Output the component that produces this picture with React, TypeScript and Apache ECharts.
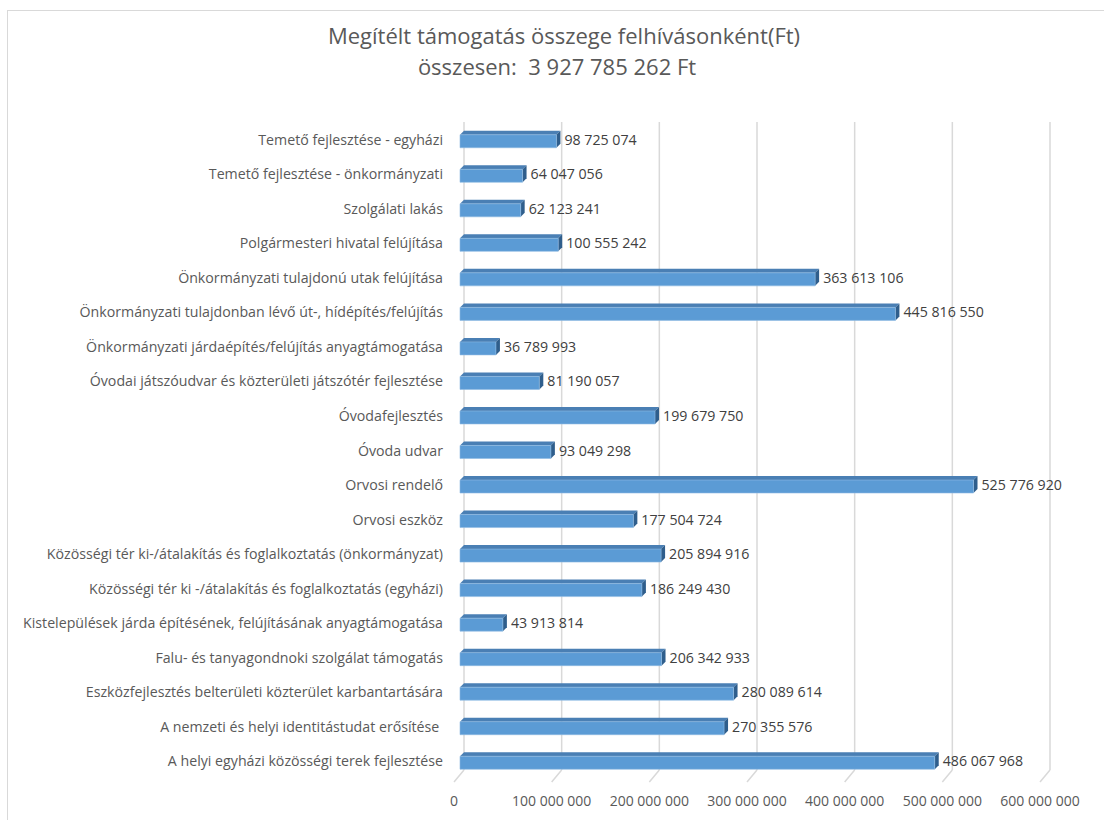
import React, { useEffect, useRef } from "react";
import * as echarts from "echarts";

// top-to-bottom as in the picture
const categoriesTopDown: string[] = [
  "Temető fejlesztése - egyházi",
  "Temető fejlesztése - önkormányzati",
  "Szolgálati lakás",
  "Polgármesteri hivatal felújítása",
  "Önkormányzati tulajdonú utak felújítása",
  "Önkormányzati tulajdonban lévő út-, hídépítés/felújítás",
  "Önkormányzati járdaépítés/felújítás anyagtámogatása",
  "Óvodai játszóudvar és közterületi játszótér fejlesztése",
  "Óvodafejlesztés",
  "Óvoda udvar",
  "Orvosi rendelő",
  "Orvosi eszköz",
  "Közösségi tér ki-/átalakítás és foglalkoztatás (önkormányzat)",
  "Közösségi tér ki -/átalakítás és foglalkoztatás (egyházi)",
  "Kistelepülések járda építésének, felújításának anyagtámogatása",
  "Falu- és tanyagondnoki szolgálat támogatás",
  "Eszközfejlesztés belterületi közterület karbantartására",
  "A nemzeti és helyi identitástudat erősítése ",
  "A helyi egyházi közösségi terek fejlesztése",
];
const valuesTopDown: number[] = [
  98725074, 64047056, 62123241, 100555242, 363613106, 445816550, 36789993,
  81190057, 199679750, 93049298, 525776920, 177504724, 205894916, 186249430,
  43913814, 206342933, 280089614, 270355576, 486067968,
];
const axisTicks: number[] = [0, 100000000, 200000000, 300000000, 400000000, 500000000, 600000000];
const titleLines: string[] = [
  "Megítélt támogatás összege felhívásonként(Ft)",
  "összesen:  3 927 785 262 Ft",
];

const categories = [...categoriesTopDown].reverse();
const values = [...valuesTopDown].reverse();

const fmt = (v: number) =>
  String(Math.round(v)).replace(/\B(?=(\d{3})+(?!\d))/g, " ");

const FONT = "'Open Sans', sans-serif";
const DX = 4;
const DY = 4;

const titleStyle = {
  fontFamily: FONT,
  fontSize: 22,
  fontWeight: "normal",
  color: "#595959",
};

export default function App() {
  const ref = useRef<HTMLDivElement>(null);
  useEffect(() => {
    const chart = echarts.init(ref.current!, null, { renderer: "svg" });
    chart.setOption({
      animation: false,
      title: [
        {
          text: titleLines[0],
          left: 564,
          textAlign: "center",
          top: 24,
          padding: 0,
          textStyle: titleStyle,
        },
        {
          text: titleLines[1],
          left: 557,
          textAlign: "center",
          top: 55,
          padding: 0,
          textStyle: titleStyle,
        },
      ],
      grid: { left: 460, right: 58, top: 122, bottom: 42, containLabel: false },
      xAxis: {
        type: "value",
        min: 0,
        max: 600000000,
        interval: 100000000,
        axisLine: { show: false },
        axisTick: { show: false },
        splitLine: { show: false },
        axisLabel: {
          formatter: (v: number) => fmt(v),
          color: "#595959",
          fontFamily: FONT,
          fontSize: 14,
          margin: 15,
          padding: [0, 12, 0, 0],
        },
      },
      yAxis: {
        type: "category",
        data: categories,
        axisLine: { show: false },
        axisTick: { show: false },
        axisLabel: {
          color: "#595959",
          fontFamily: FONT,
          fontSize: 14.2,
          margin: 17,
        },
      },
      series: [
        {
          type: "custom",
          name: "grid",
          silent: true,
          z: 1,
          data: axisTicks.map((t) => [t]),
          renderItem: (params: any, api: any) => {
            const cs = params.coordSys;
            const x = api.coord([api.value(0), 0])[0];
            const yTop = cs.y;
            const yFloor = cs.y + cs.height - 8;
            return {
              type: "group",
              children: [
                {
                  type: "line",
                  shape: { x1: x + DX, y1: yTop, x2: x + DX, y2: yFloor },
                  style: { stroke: "#d9d9d9", lineWidth: 1.5 },
                },
                {
                  type: "line",
                  shape: { x1: x + DX, y1: yFloor, x2: x - 6, y2: yFloor + 12 },
                  style: { stroke: "#d9d9d9", lineWidth: 1.5 },
                },
              ],
            };
          },
        },
        {
          type: "custom",
          name: "Megítélt támogatás",
          z: 2,
          data: values.map((v, i) => [v, i]),
          renderItem: (params: any, api: any) => {
            const v = api.value(0);
            const idx = api.value(1);
            const p0 = api.coord([0, idx]);
            const p1 = api.coord([v, idx]);
            const cy = p1[1];
            const h = 13;
            const yT = cy - h / 2 + 2;
            const yB = cy + h / 2 + 2;
            const x0 = p0[0];
            const x1 = p1[0];
            return {
              type: "group",
              children: [
                {
                  type: "polygon",
                  shape: {
                    points: [
                      [x0, yT],
                      [x0 + DX, yT - DY],
                      [x1 + DX, yT - DY],
                      [x1, yT],
                    ],
                  },
                  style: { fill: "#4a7fb4" },
                },
                {
                  type: "polygon",
                  shape: {
                    points: [
                      [x1, yT],
                      [x1 + DX, yT - DY],
                      [x1 + DX, yB - DY],
                      [x1, yB],
                    ],
                  },
                  style: { fill: "#2f5e8c" },
                },
                {
                  type: "rect",
                  shape: { x: x0, y: yT, width: x1 - x0, height: yB - yT },
                  style: { fill: "#5b9bd5", stroke: "#8fbbe3", lineWidth: 0.6 },
                },
                {
                  type: "text",
                  style: {
                    text: fmt(v),
                    x: x1 + DX + 4,
                    y: cy,
                    verticalAlign: "middle",
                    fill: "#404040",
                    fontFamily: FONT,
                    fontSize: 14.2,
                  },
                },
              ],
            };
          },
        },
      ],
    });
    return () => chart.dispose();
  }, []);
  return (
    <div
      style={{
        position: "fixed",
        left: 0,
        top: 0,
        width: 1104,
        height: 820,
        background: "#fff",
        overflow: "hidden",
      }}
    >
      <div
        style={{
          position: "absolute",
          left: 7,
          top: 10,
          width: 1110,
          height: 830,
          border: "1.5px solid #d9d9d9",
          boxSizing: "border-box",
        }}
      />
      <div ref={ref} style={{ position: "absolute", left: 0, top: 0, width: 1104, height: 820 }} />
    </div>
  );
}
